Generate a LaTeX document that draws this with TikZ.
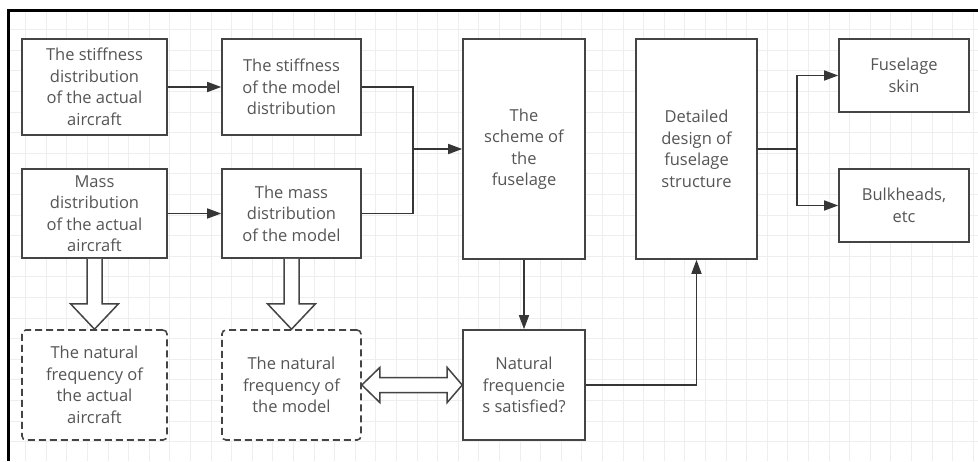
\documentclass[tikz,border=0pt]{standalone}
\usepackage{fontspec}
\setmainfont{Open Sans}
\usepackage{xcolor}
\usetikzlibrary{arrows.meta, calc}
\definecolor{boxline}{RGB}{68, 68, 68}
\definecolor{boxtext}{RGB}{85, 85, 85}
\definecolor{gridgray}{RGB}{238, 238, 238}

\tikzset{
  stepbox/.style={draw=boxline, line width=1.6pt, fill=white, align=center,
    text=boxtext, font=\fontsize{16.5}{21.5}\selectfont, inner sep=2pt},
  freqbox/.style={stepbox, dashed, dash pattern=on 7pt off 4pt, rounded corners=4pt},
  flow/.style={draw=boxline!80!black, line width=1.6pt},
  flowarrow/.style={flow, -{Triangle[length=14pt, width=10pt]}},
  hollow/.style={draw=boxline, line width=1.5pt, fill=white, line join=miter}
}

\begin{document}
\begin{tikzpicture}[x=1pt, y=-1pt]
\useasboundingbox (0,0) rectangle (978,461);

% background grid
\foreach \k in {1,...,47} {
    \draw[gridgray, line width=0.8pt] ({4.9+20.6*\k},11) -- ({4.9+20.6*\k},461);
}
\foreach \k in {1,...,21} {
    \draw[gridgray, line width=0.8pt] (10,{8.9+20.6*\k}) -- (978,{8.9+20.6*\k});
}

% frame
\draw[black, line width=2.7pt] (8.5,461) -- (8.5,10.3) -- (978,10.3);

% left columns
\node[stepbox, minimum width=145, minimum height=96] (stiffact) at (94.5,87)
    {The stiffness\\distribution\\of the actual\\aircraft};
\node[stepbox, minimum width=139, minimum height=96] (stiffmod) at (291.5,87)
    {The stiffness\\of the model\\distribution};
\node[stepbox, minimum width=145, minimum height=89] (massact) at (94.5,213.5)
    {Mass\\distribution\\of the actual\\aircraft};
\node[stepbox, minimum width=139, minimum height=89] (massmod) at (291.5,213.5)
    {The mass\\distribution\\of the model};

% natural frequencies
\node[freqbox, minimum width=145, minimum height=110] (freqact) at (94.5,385)
    {The natural\\frequency of\\the actual\\aircraft};
\node[freqbox, minimum width=139, minimum height=110] (freqmod) at (291.5,385)
    {The natural\\frequency of\\the model};

% fuselage design
\node[stepbox, minimum width=122, minimum height=220] (scheme) at (524,149)
    {The\\scheme of\\the\\fuselage};
\node[stepbox, minimum width=121, minimum height=220] (detail) at (696.5,149)
    {Detailed\\design of\\fuselage\\structure};
\node[stepbox, minimum width=122, minimum height=110] (check) at (524,385)
    {Natural\\frequencie\\s satisfied?};
\node[stepbox, minimum width=130, minimum height=73] (skin) at (904,75.5)
    {Fuselage\\skin};
\node[stepbox, minimum width=130, minimum height=73] (bulk) at (904,205.5)
    {Bulkheads,\\etc};

% connectors
\coordinate (join) at (413,149);
\coordinate (split) at (797,149);
\draw[flowarrow] (stiffact) -- (stiffmod);
\draw[flowarrow] (massact) -- (massmod);
\draw[flow] (stiffmod.east) -| (join);
\draw[flow] (massmod.east) -| (join);
\draw[flowarrow] (join) -- (scheme.west);
\draw[flow] (detail.east) -- (split);
\draw[flowarrow] (split) |- (skin.west);
\draw[flowarrow] (split) |- (bulk.west);
\draw[flowarrow] (scheme) -- (check);
\draw[flowarrow] (check.east) -| (detail.south);

% hollow arrows
\foreach \src/\dst in {massact/freqact, massmod/freqmod} {
    \draw[hollow] ($(\src.south)+(-7.5,0)$) -- ($(\src.south)+(-7.5,45)$)
        -- ($(\src.south)+(-24,45)$) -- (\dst.north) -- ($(\src.south)+(24,45)$)
        -- ($(\src.south)+(7.5,45)$) -- ($(\src.south)+(7.5,0)$);
}
\draw[hollow] (freqmod.east) -- ($(freqmod.east)+(18,-17.5)$) -- ($(freqmod.east)+(18,-7.5)$)
    -- ($(check.west)+(-15,-7.5)$) -- ($(check.west)+(-15,-17.5)$) -- (check.west)
    -- ($(check.west)+(-15,17.5)$) -- ($(check.west)+(-15,7.5)$)
    -- ($(freqmod.east)+(18,7.5)$) -- ($(freqmod.east)+(18,17.5)$) -- cycle;
\end{tikzpicture}
\end{document}
